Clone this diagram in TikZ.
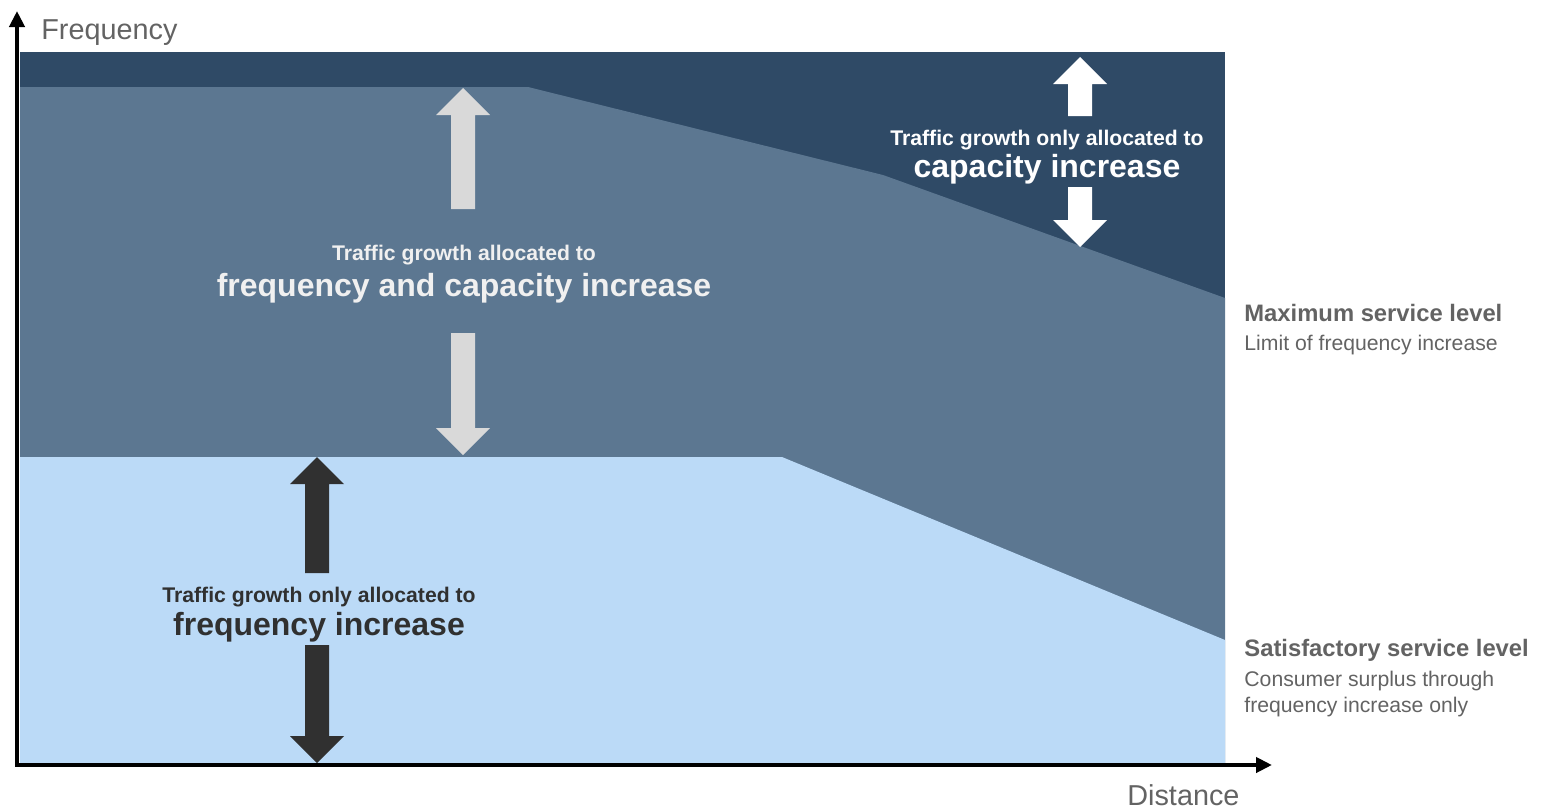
\documentclass[tikz,border=0pt]{standalone}
\usepackage{fontspec}
\setmainfont{Liberation Sans}
\usetikzlibrary{arrows.meta}

\definecolor{navy}{HTML}{2F4A66}
\definecolor{steel}{HTML}{5C7791}
\definecolor{sky}{HTML}{BBDAF7}
\definecolor{pale}{HTML}{D9D9D9}
\definecolor{ink}{HTML}{303030}
\definecolor{muted}{HTML}{636363}

\tikzset{
    axis/.style={line width=2.2pt,black,{Triangle[length=8pt,width=7.5pt]}-{Triangle[length=8pt,width=7.5pt]}},
    axislabel/.style={inner sep=0pt,anchor=base west,text=muted,font=\fontsize{14.4}{17}\selectfont},
    smalltext/.style={inner sep=0pt,anchor=base,font=\fontsize{10.6}{13}\selectfont\bfseries},
    bigtext/.style={inner sep=0pt,anchor=base,font=\fontsize{16}{19}\selectfont\bfseries},
    sidetitle/.style={inner sep=0pt,anchor=base west,text=muted,font=\fontsize{11.9}{14}\selectfont\bfseries},
    sidebody/.style={inner sep=0pt,anchor=base west,text=muted,font=\fontsize{10.6}{13}\selectfont}
}

\begin{document}
\begin{tikzpicture}[x=0.5pt,y=-0.5pt]
    \useasboundingbox (0,0) rectangle (1544,809);

    % service level bands
    \fill[navy] (20,52) rectangle (1225,763);
    \fill[steel] (20,87) -- (528,87) -- (883,175) -- (1225,298)
        -- (1225,763) -- (20,763) -- cycle;
    \fill[sky] (20,457) -- (782,457) -- (1225,640)
        -- (1225,763) -- (20,763) -- cycle;

    % block arrows: centre / tip / shaft end / colour / direction
    \foreach \cx/\tip/\base/\col/\s in {
        463/88/209/pale/1, 463/455/333/pale/-1,
        317/457/573/ink/1, 317/763/645/ink/-1,
        1080/57/116/white/1, 1080/247/187/white/-1} {
        \fill[\col] (\cx,\tip)
            -- (\cx+27,\tip+\s*27)
            -- (\cx+12,\tip+\s*27)
            -- (\cx+12,\base)
            -- (\cx-12,\base)
            -- (\cx-12,\tip+\s*27)
            -- (\cx-27,\tip+\s*27)
            -- cycle;
    }

    % axes
    \coordinate (ytop) at (17,11);
    \coordinate (origin) at (17,765);
    \coordinate (xend) at (1272,765);
    \draw[axis] (ytop) -- (origin) -- (xend);
    \node[axislabel] (freq) at (41,39) {Frequency};
    \node[axislabel] (dist) at (1127,805) {Distance};

    % band labels
    \node[smalltext,text=white] (capsmall) at (1047,145) {Traffic growth only allocated to};
    \node[bigtext,text=white] (capbig) at (1047,177) {capacity increase};
    \node[smalltext,text=white!94!black] (bothsmall) at (464,260) {Traffic growth allocated to};
    \node[bigtext,text=white!94!black] (bothbig) at (464,296) {frequency and capacity increase};
    \node[smalltext,text=ink] (freqsmall) at (319,602) {Traffic growth only allocated to};
    \node[bigtext,text=ink] (freqbig) at (319,635) {frequency increase};

    % service levels
    \node[sidetitle] (maxtitle) at (1244,321) {Maximum service level};
    \node[sidebody] (maxbody) at (1244,350) {Limit of frequency increase};
    \node[sidetitle] (sattitle) at (1244,656) {Satisfactory service level};
    \node[sidebody] (satbody) at (1244,686) {Consumer surplus through};
    \node[sidebody] (satbodyb) at (1244,712) {frequency increase only};
\end{tikzpicture}
\end{document}
